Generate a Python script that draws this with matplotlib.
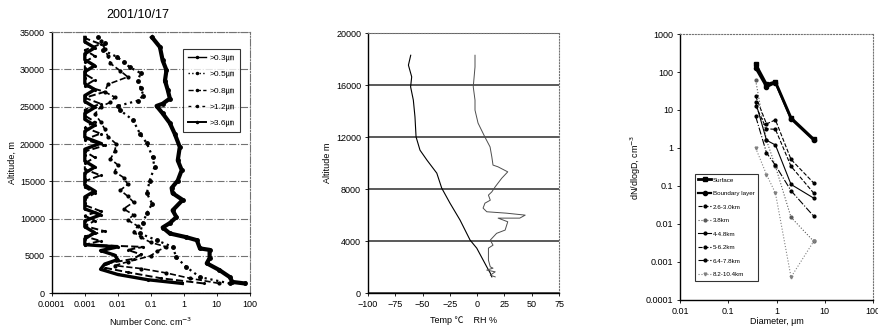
import matplotlib
matplotlib.use("Agg")
import matplotlib.pyplot as plt
from matplotlib.lines import Line2D

plt.rcParams['font.family'] = ['Liberation Sans', 'Noto Sans CJK KR', 'DejaVu Sans']
plt.rcParams['font.size'] = 6.5

# ---- panel 1: number concentration profiles (2001/10/17)
alt_03 = [1300, 1500, 2150, 3100, 4000, 4700, 5800, 6000, 7100, 7500, 8000, 8800, 9400, 10200,
          11100, 12500, 13400, 14100, 15100, 16500, 17800, 19600, 21400, 22800, 24100, 25100,
          25400, 26100, 27200, 28500, 29900, 31200, 33000, 34300]
val_03 = [70, 30, 25, 12, 5, 6.1, 6.1, 3.1, 2.5, 1.2, 0.38, 0.23, 0.38, 0.6,
          0.46, 0.93, 0.46, 0.43, 0.66, 0.87, 0.66, 0.76, 0.53, 0.38, 0.23, 0.15,
          0.23, 0.38, 0.33, 0.27, 0.3, 0.23, 0.19, 0.11]

alt_05 = [1300, 2150, 3500, 4800, 6200, 7100, 8000, 9400, 10700, 12000, 13400, 15100, 16900,
          18200, 20100, 21400, 23200, 24500, 25100, 25800, 26500, 27500, 28500, 29500, 30300,
          31000, 31700, 32600, 33500, 34300]
val_05 = [25, 3.1, 1.2, 0.6, 0.46, 0.15, 0.047, 0.057, 0.076, 0.11, 0.076, 0.093, 0.13,
          0.115, 0.076, 0.047, 0.029, 0.012, 0.01, 0.04, 0.06, 0.05, 0.04, 0.05, 0.023,
          0.015, 0.0093, 0.0035, 0.004, 0.0025]

alt_08 = [1300, 2000, 2700, 3300, 3700, 4200, 5000, 5600, 6200, 6800, 7500, 8200, 9000, 9800,
          10500, 11300, 12200, 13000, 13800, 14600, 15500, 16300, 17200, 18000, 19000, 20000,
          21000, 22000, 23000, 24000, 25000, 25600, 26300, 27000, 28000, 29000, 29800, 30800,
          31800, 32800, 33800]
val_08 = [12, 1.5, 0.3, 0.05, 0.008, 0.02, 0.1, 0.15, 0.3, 0.1, 0.05, 0.03, 0.04, 0.02,
          0.03, 0.015, 0.03, 0.02, 0.012, 0.02, 0.015, 0.008, 0.01, 0.006, 0.008, 0.009,
          0.005, 0.004, 0.003, 0.002, 0.003, 0.006, 0.008, 0.004, 0.005, 0.02, 0.012, 0.006,
          0.005, 0.004, 0.003]

alt_12 = [1300, 2000, 2800, 3400, 4000, 4600, 5200, 5800, 6200, 6500, 7000, 7600, 8300, 9000,
          9700, 10400, 11000, 11800, 12600, 13400, 14200, 15000, 15800, 16600, 17400, 18200,
          19000, 19800, 20600, 21400, 22200, 23000, 23800, 24600, 25400, 26200, 27000, 27800,
          28600, 29400, 30200, 31000, 31800, 32600, 33400, 34200]
val_12 = [4, 0.2, 0.02, 0.004, 0.005, 0.03, 0.05, 0.02, 0.06, 0.001, 0.003, 0.001, 0.004, 0.001,
          0.002, 0.001, 0.003, 0.001, 0.001, 0.002, 0.001, 0.001, 0.003, 0.001, 0.001, 0.002,
          0.001, 0.004, 0.001, 0.003, 0.001, 0.002, 0.001, 0.001, 0.003, 0.001, 0.004, 0.001,
          0.002, 0.001, 0.001, 0.001, 0.002, 0.001, 0.003, 0.001]

alt_36 = [1300, 1800, 2500, 3200, 3900, 4500, 5100, 5700, 6200, 6500, 7300, 8100, 8900, 9700,
          10500, 11300, 12100, 12900, 13700, 14500, 15300, 16100, 16900, 17700, 18500, 19300,
          20100, 20900, 21700, 22500, 23300, 24100, 24900, 25700, 26500, 27300, 28100, 28900,
          29700, 30500, 31300, 32100, 32900, 33700, 34300]
val_36 = [0.9, 0.08, 0.01, 0.003, 0.004, 0.01, 0.008, 0.003, 0.01, 0.001, 0.001, 0.002, 0.001, 0.001,
          0.003, 0.001, 0.001, 0.001, 0.002, 0.001, 0.001, 0.001, 0.002, 0.001, 0.001, 0.001,
          0.003, 0.001, 0.001, 0.002, 0.001, 0.001, 0.002, 0.001, 0.001, 0.002, 0.001, 0.001,
          0.001, 0.002, 0.001, 0.001, 0.002, 0.001, 0.001]

size_labels = ['>0.3㎛', '>0.5㎛', '>0.8㎛', '>1.2㎛', '>3.6㎛']
conc_ticks = [1e-4, 1e-3, 1e-2, 1e-1, 1, 10, 100]
conc_ticklabels = ['0.0001', '0.001', '0.01', '0.1', '1', '10', '100']

# ---- panel 2: temperature and RH profile
temp_alt = [1250, 1540, 2020, 3460, 4080, 5620, 6920, 8080, 9230, 10230, 11000, 12020, 13560,
            14850, 15870, 16640, 17540, 18300]
temp_val = [13.4, 12, 8.8, -0.4, -6.5, -15.7, -24.9, -32.5, -37, -46, -52.4, -56, -57,
            -58.5, -61, -60, -63, -60.9]

rh_alt = [1250, 1380, 1640, 1770, 1920, 2020, 2540, 3460, 3690, 4080, 4600, 4850, 5490, 5770,
          5770, 6000, 6150, 6260, 6540, 6920, 7150, 7540, 7790, 8180, 8840, 9330, 9720, 9850,
          10490, 11250, 12020, 13080, 14080, 14850, 15870, 17400, 18300]
rh_val = [16.5, 12, 16.5, 8.8, 14.5, 12, 10.3, 10.3, 14.5, 12, 17.8, 25.6, 28, 19.2,
          39, 44, 27, 8.8, 5.4, 7.1, 12, 10.3, 13.4, 16.5, 22.5, 28, 19, 14.5,
          13.4, 11.8, 7, 0.8, -2, -2, -3.6, -2, -2]

# ---- panel 3: size distributions
diam = [0.37, 0.62, 0.95, 2.0, 5.9]
dist_labels = ['Surface', 'Boundary layer', '2.6-3.0km', '3.8km', '4-4.8km',
               '5-6.2km', '6.4-7.8km', '8.2-10.4km']
dist_vals = [
    [160, 47, 55, 6.2, 1.7],
    [125, 40, 52, 5.8, 1.6],
    [23, 4.3, 5.5, 0.5, 0.12],
    [60, 1.6, 0.33, 0.015, 0.0035],
    [16, 1.6, 1.2, 0.11, 0.048],
    [13, 3.2, 3.1, 0.33, 0.065],
    [6.8, 0.75, 0.35, 0.075, 0.016],
    [1.0, 0.2, 0.065, 0.0004, 0.0035],
]

fig = plt.figure(figsize=(8.79, 3.35), dpi=100)

def frame(ax, ls):
    for s in ['top', 'right']:
        ax.spines[s].set_linestyle(ls)
        ax.spines[s].set_color('0.45')
        ax.spines[s].set_linewidth(0.8)
    for s in ['left', 'bottom']:
        ax.spines[s].set_linewidth(1.0)
    ax.tick_params(length=2, width=0.6, pad=3, labelsize=6.5)
    ax.minorticks_off()

# panel 1
ax1 = fig.add_axes([0.059, 0.125, 0.225, 0.779])
ax1.set_xscale('log')
ax1.plot(val_03, alt_03, '-', color='k', lw=3.0, marker='o', ms=2.5)
ax1.plot(val_05, alt_05, ':', color='k', lw=1.6, marker='o', ms=2.5)
ax1.plot(val_08, alt_08, '--', color='k', lw=1.2, marker='o', ms=2)
ax1.plot(val_12, alt_12, '--', color='k', lw=1.4, marker='.', ms=2.5)
ax1.plot(val_36, alt_36, '-', color='k', lw=2.4, marker='.', ms=2.5)
ax1.set_xlim(1e-4, 100)
ax1.set_ylim(0, 35000)
ax1.set_yticks(range(0, 35001, 5000))
ax1.set_xticks(conc_ticks)
ax1.set_xticklabels(conc_ticklabels)
ax1.grid(axis='y', color='0.45', ls='-.', lw=0.8)
frame(ax1, '-.')
ax1.set_xlabel('Number Conc. cm$^{-3}$', fontsize=6.5, labelpad=5)
ax1.set_ylabel('Altitude, m', fontsize=6.5, labelpad=2)
fig.text(0.157, 0.955, '2001/10/17', ha='center', va='center', fontsize=9)
h1 = [Line2D([], [], color='k', ls='-', lw=1, marker='.', ms=3),
      Line2D([], [], color='k', ls=':', lw=1, marker='.', ms=3),
      Line2D([], [], color='k', ls='--', lw=1, marker='.', ms=3),
      Line2D([], [], color='k', ls=(0, (2, 3)), lw=1, marker='.', ms=3),
      Line2D([], [], color='k', ls='-', lw=1.4, marker='.', ms=3)]
leg1 = ax1.legend(h1, size_labels, loc='upper right', bbox_to_anchor=(0.97, 0.95),
                  fontsize=6, frameon=True, fancybox=False, edgecolor='k',
                  handlelength=2.2, labelspacing=1.0, borderpad=0.6, handletextpad=0.4)
leg1.get_frame().set_linewidth(0.8)

# panel 2
ax2 = fig.add_axes([0.4187, 0.125, 0.2173, 0.776])
ax2.plot(temp_val, temp_alt, color='k', lw=0.8)
ax2.plot(rh_val, rh_alt, color='0.3', lw=0.7)
ax2.set_xlim(-100, 75)
ax2.set_ylim(0, 20000)
ax2.set_xticks(range(-100, 76, 25))
ax2.set_yticks(range(0, 20001, 4000))
ax2.grid(axis='y', color='0.35', ls='-', lw=1.4)
frame(ax2, ':')
ax2.set_xlabel('Temp ℃    RH %', fontsize=6.5, labelpad=5)
ax2.set_ylabel('Altitude m', fontsize=6.5, labelpad=3)

# panel 3
ax3 = fig.add_axes([0.7736, 0.1045, 0.2196, 0.794])
ax3.set_xscale('log')
ax3.set_yscale('log')
styles = [('-', 's', 2.0, 'k'), ('-', 'o', 1.6, 'k'), ('--', 'o', 0.8, 'k'), (':', 'o', 0.8, '0.35'),
          ('-', 'o', 0.8, 'k'), ('--', 'o', 0.8, 'k'), ('-.', 'o', 0.8, 'k'), (':', 'v', 0.8, '0.5')]
for vals, lab, (ls, mk, lw, c) in zip(dist_vals, dist_labels, styles):
    ax3.plot(diam, vals, ls=ls, marker=mk, lw=lw, color=c, ms=3 if lw > 1 else 2, label=lab)
ax3.set_xlim(0.01, 100)
ax3.set_ylim(1e-4, 1000)
ax3.set_xticks([0.01, 0.1, 1, 10, 100])
ax3.set_xticklabels(['0.01', '0.1', '1', '10', '100'])
ax3.set_yticks([1e-4, 1e-3, 1e-2, 1e-1, 1, 10, 100, 1000])
ax3.set_yticklabels(['0.0001', '0.001', '0.01', '0.1', '1', '10', '100', '1000'])
frame(ax3, ':')
ax3.set_xlabel('Diameter, μm', fontsize=6.5, labelpad=1)
ax3.set_ylabel('dN/dlogD, cm$^{-3}$', fontsize=6.5, labelpad=2)
leg3 = ax3.legend(loc='lower left', bbox_to_anchor=(0.06, 0.06), fontsize=4.5, frameon=True,
                  fancybox=False, edgecolor='k', handlelength=2.0, labelspacing=1.3,
                  borderpad=0.6, handletextpad=0.3)
leg3.get_frame().set_linewidth(0.8)

fig.savefig('out.png', dpi=100)
